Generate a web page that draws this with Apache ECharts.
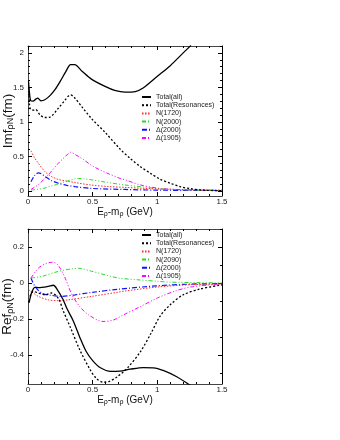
<!DOCTYPE html>
<html><head><meta charset="utf-8">
<script src="https://cdn.jsdelivr.net/npm/echarts@6/dist/echarts.min.js"></script>
<style>html,body{margin:0;padding:0;background:#fff}#c{width:340px;height:440px}</style>
</head><body><div id="c"></div>
<script>
// ---- tick labels ----
const xTicks = [0, 0.5, 1, 1.5];
const imTicks = [0, 0.5, 1, 1.5, 2];
const reTicks = [-0.4, -0.2, 0, 0.2];

// ---- legend names ----
const namesIm = ['Total(all)', 'Total(Resonances)', 'N(1720)', 'N(2000)', 'Δ(2000)', 'Δ(1905)'];
const namesRe = ['Total(all)', 'Total(Resonances)', 'N(1720)', 'N(2090)', 'Δ(2000)', 'Δ(1905)'];

// ---- Im f data [E, value] ----
const imTotalAll = [[0.004,1.59],[0.01,1.45],[0.02,1.31],[0.04,1.30],[0.06,1.33],[0.075,1.345],[0.09,1.32],[0.1,1.305],[0.13,1.32],[0.17,1.38],[0.21,1.47],[0.25,1.59],[0.29,1.72],[0.33,1.83],[0.36,1.83],[0.42,1.73],[0.49,1.62],[0.6,1.51],[0.67,1.456],[0.75,1.43],[0.83,1.44],[0.89,1.49],[1.0,1.66],[1.1,1.815],[1.2,2.0],[1.26,2.11]];
const imTotalRes = [[0.005,1.50],[0.012,1.25],[0.02,1.18],[0.04,1.17],[0.06,1.18],[0.075,1.15],[0.093,1.10],[0.13,1.063],[0.17,1.07],[0.235,1.20],[0.28,1.30],[0.31,1.37],[0.33,1.39],[0.36,1.35],[0.42,1.21],[0.49,1.05],[0.6,0.84],[0.71,0.61],[0.79,0.47],[0.87,0.35],[0.95,0.25],[1.02,0.17],[1.1,0.11],[1.18,0.058],[1.26,0.03],[1.33,0.013],[1.4,0.006],[1.5,0.003]];
const imN1720 = [[0.023,0.58],[0.05,0.48],[0.08,0.40],[0.13,0.28],[0.18,0.21],[0.235,0.165],[0.3,0.14],[0.364,0.12],[0.49,0.083],[0.62,0.062],[0.75,0.05],[0.9,0.035],[1.1,0.022],[1.3,0.014],[1.5,0.01]];
const imN2000 = [[0.023,0.01],[0.08,0.025],[0.13,0.04],[0.18,0.07],[0.235,0.10],[0.3,0.14],[0.364,0.175],[0.39,0.18],[0.43,0.175],[0.49,0.16],[0.62,0.12],[0.75,0.085],[0.87,0.06],[1.02,0.03],[1.2,0.015],[1.5,0.005]];
const imD2000 = [[0.023,0.13],[0.05,0.22],[0.08,0.26],[0.1,0.25],[0.13,0.21],[0.18,0.15],[0.235,0.11],[0.3,0.08],[0.364,0.06],[0.49,0.035],[0.75,0.02],[1.0,0.01],[1.5,0.004]];
const imD1905 = [[0.023,0.02],[0.08,0.09],[0.13,0.18],[0.18,0.28],[0.235,0.40],[0.29,0.50],[0.33,0.56],[0.37,0.52],[0.416,0.47],[0.49,0.37],[0.55,0.31],[0.62,0.25],[0.713,0.18],[0.75,0.16],[0.87,0.085],[1.02,0.035],[1.2,0.015],[1.5,0.005]];

// ---- Re f data [E, value] ----
const reTotalAll = [[0.008,-0.11],[0.03,-0.05],[0.054,-0.024],[0.08,-0.025],[0.106,-0.024],[0.157,-0.018],[0.196,-0.012],[0.23,-0.04],[0.27,-0.09],[0.3,-0.14],[0.35,-0.21],[0.4,-0.3],[0.45,-0.38],[0.5,-0.43],[0.56,-0.47],[0.64,-0.49],[0.71,-0.488],[0.79,-0.478],[0.89,-0.469],[0.97,-0.47],[1.05,-0.486],[1.15,-0.52],[1.26,-0.57]];
const reTotalRes = [[0.015,-0.074],[0.04,-0.046],[0.08,-0.055],[0.13,-0.065],[0.18,-0.055],[0.235,-0.085],[0.27,-0.15],[0.33,-0.25],[0.4,-0.37],[0.48,-0.48],[0.53,-0.53],[0.58,-0.55],[0.63,-0.545],[0.69,-0.52],[0.77,-0.47],[0.87,-0.38],[0.95,-0.28],[1.02,-0.185],[1.1,-0.12],[1.2,-0.065],[1.33,-0.033],[1.5,-0.01]];
const reN1720 = [[0.01,-0.04],[0.04,-0.055],[0.08,-0.074],[0.157,-0.093],[0.235,-0.098],[0.31,-0.093],[0.49,-0.074],[0.7,-0.05],[0.74,-0.045],[1.0,-0.022],[1.256,-0.009],[1.5,-0.005]];
const reN2090 = [[0.023,0.028],[0.106,0.037],[0.235,0.065],[0.33,0.078],[0.39,0.082],[0.49,0.066],[0.6,0.045],[0.7,0.028],[0.85,0.018],[1.0,0.01],[1.1,0.005],[1.5,0.001]];
const reD2000 = [[0.023,0.028],[0.054,-0.018],[0.106,-0.056],[0.18,-0.068],[0.26,-0.074],[0.364,-0.065],[0.49,-0.052],[0.7,-0.034],[1.0,-0.015],[1.25,-0.006],[1.5,-0.003]];
const reD1905 = [[0.023,0.028],[0.08,0.083],[0.13,0.105],[0.18,0.115],[0.2,0.115],[0.235,0.098],[0.287,0.028],[0.34,-0.065],[0.4,-0.13],[0.467,-0.176],[0.58,-0.213],[0.66,-0.205],[0.74,-0.176],[0.87,-0.13],[1.0,-0.083],[1.13,-0.046],[1.256,-0.022],[1.5,-0.004]];

const FONT = "'Liberation Sans', Arial, Helvetica, sans-serif";
function steps(a, b, s) { const r = []; const n = Math.round((b - a) / s); for (let i = 0; i <= n; i++) r.push(+(a + i * s).toFixed(4)); return r; }

const styles = [
  { color: '#000000', width: 1.3, type: 'solid' },
  { color: '#000000', width: 1.3, type: [2, 2] },
  { color: '#ff2a2a', width: 1, type: [1.5, 1.5] },
  { color: '#22dd22', width: 1, type: [4, 2, 1, 2, 1, 2] },
  { color: '#1010ff', width: 1.2, type: [5, 2, 1, 2] },
  { color: '#ff00ff', width: 1, type: [4, 2, 1, 2, 1, 2] }
];

function mkAxes(gi, pos, min, max, major, minor, withLabel, name, nameGap, nameRotate) {
  const dark = (pos === 'right') ? '#000' : '#444';
  const base = { type: 'value', gridIndex: gi, position: pos, min: min, max: max, splitLine: { show: false }, z: 5 };
  const a = Object.assign({}, base, {
    axisLine: { show: true, onZero: false, lineStyle: { color: dark, width: 1 } },
    axisTick: { show: true, inside: true, length: 4, customValues: major, lineStyle: { color: '#000', width: 1 } },
    axisLabel: { show: withLabel, customValues: major, fontFamily: FONT, fontSize: 8, color: '#222', margin: (pos === 'bottom' ? 2 : 4) }
  });
  if (name) {
    Object.assign(a, {
      name: name.text, nameLocation: 'middle', nameGap: nameGap, nameRotate: nameRotate,
      nameMoveOverlap: false,
      nameTextStyle: name.rich
    });
  }
  const b = Object.assign({}, base, {
    axisLine: { show: false, onZero: false },
    axisTick: { show: true, inside: true, length: 2, customValues: minor, lineStyle: { color: '#000', width: 1 } },
    axisLabel: { show: false }
  });
  return [a, b];
}

const xName = {
  text: '{a|E}{s|ρ}{a|-m}{s|ρ}{a| (GeV)}',
  rich: { fontFamily: FONT, color: '#111', rich: {
    a: { fontFamily: FONT, fontSize: 10, color: '#111', lineHeight: 12 },
    s: { fontFamily: FONT, fontSize: 7, color: '#111', lineHeight: 12, padding: [5, 0, 0, 0] }
  } }
};
function yName(main) {
  return {
    text: '{a|' + main + '}{s|ρN}{a|(fm)}',
    rich: { fontFamily: FONT, color: '#111', rich: {
      a: { fontFamily: FONT, fontSize: 13.5, color: '#111', lineHeight: 16 },
      s: { fontFamily: FONT, fontSize: 9, color: '#111', lineHeight: 16, padding: [6, 0, 0, 0] }
    } }
  };
}

const xMinor = steps(0, 1.5, 0.1);
const imMinor = steps(0, 2.1, 0.1);
const reMinor = steps(-0.5, 0.3, 0.1);

const xAxis = [].concat(
  mkAxes(0, 'bottom', 0, 1.5, xTicks, xMinor, true, xName, 10, 0),
  mkAxes(0, 'top', 0, 1.5, xTicks, xMinor, false),
  mkAxes(1, 'bottom', 0, 1.5, xTicks, xMinor, true, xName, 10, 0),
  mkAxes(1, 'top', 0, 1.5, xTicks, xMinor, false)
);
const yAxis = [].concat(
  mkAxes(0, 'left', -0.075, 2.1, imTicks, imMinor, true, yName('Imf'), 12, 90),
  mkAxes(0, 'right', -0.075, 2.1, imTicks, imMinor, false),
  mkAxes(1, 'left', -0.56, 0.3, reTicks, reMinor, true, yName('Ref'), 12.5, 90),
  mkAxes(1, 'right', -0.56, 0.3, reTicks, reMinor, false)
);

const imData = [imTotalAll, imTotalRes, imN1720, imN2000, imD2000, imD1905];
const reData = [reTotalAll, reTotalRes, reN1720, reN2090, reD2000, reD1905];
const series = [];
imData.forEach(function (d, i) {
  series.push({ type: 'line', name: namesIm[i], xAxisIndex: 0, yAxisIndex: 0, data: d, symbol: 'none', smooth: 0.3,
    lineStyle: styles[i], itemStyle: { color: styles[i].color }, z: 10 - i });
});
reData.forEach(function (d, i) {
  series.push({ type: 'line', name: namesRe[i], xAxisIndex: 4, yAxisIndex: 4, data: d, symbol: 'none', smooth: 0.3,
    lineStyle: styles[i], itemStyle: { color: styles[i].color }, z: 10 - i });
});

function mkLegend(top, names) {
  return { orient: 'vertical', left: 141, top: top, padding: 0, itemWidth: 9, itemHeight: 7, itemGap: 1.2,
    itemStyle: { color: 'rgba(0,0,0,0)', borderWidth: 0, opacity: 0 },
    textStyle: { fontFamily: FONT, fontSize: 7, color: '#222' }, data: names, selectedMode: false };
}

const chart = echarts.init(document.getElementById('c'), null, { renderer: 'canvas' });
chart.setOption({
  animation: false,
  backgroundColor: '#fff',
  grid: [
    { left: 28, top: 46, width: 194, height: 150, containLabel: false, outerBoundsMode: 'none' },
    { left: 28, top: 229, width: 194, height: 155, containLabel: false, outerBoundsMode: 'none' }
  ],
  legend: [mkLegend(93.5, namesIm), mkLegend(231.5, namesRe)],
  xAxis: xAxis,
  yAxis: yAxis,
  series: series
});
</script></body></html>
